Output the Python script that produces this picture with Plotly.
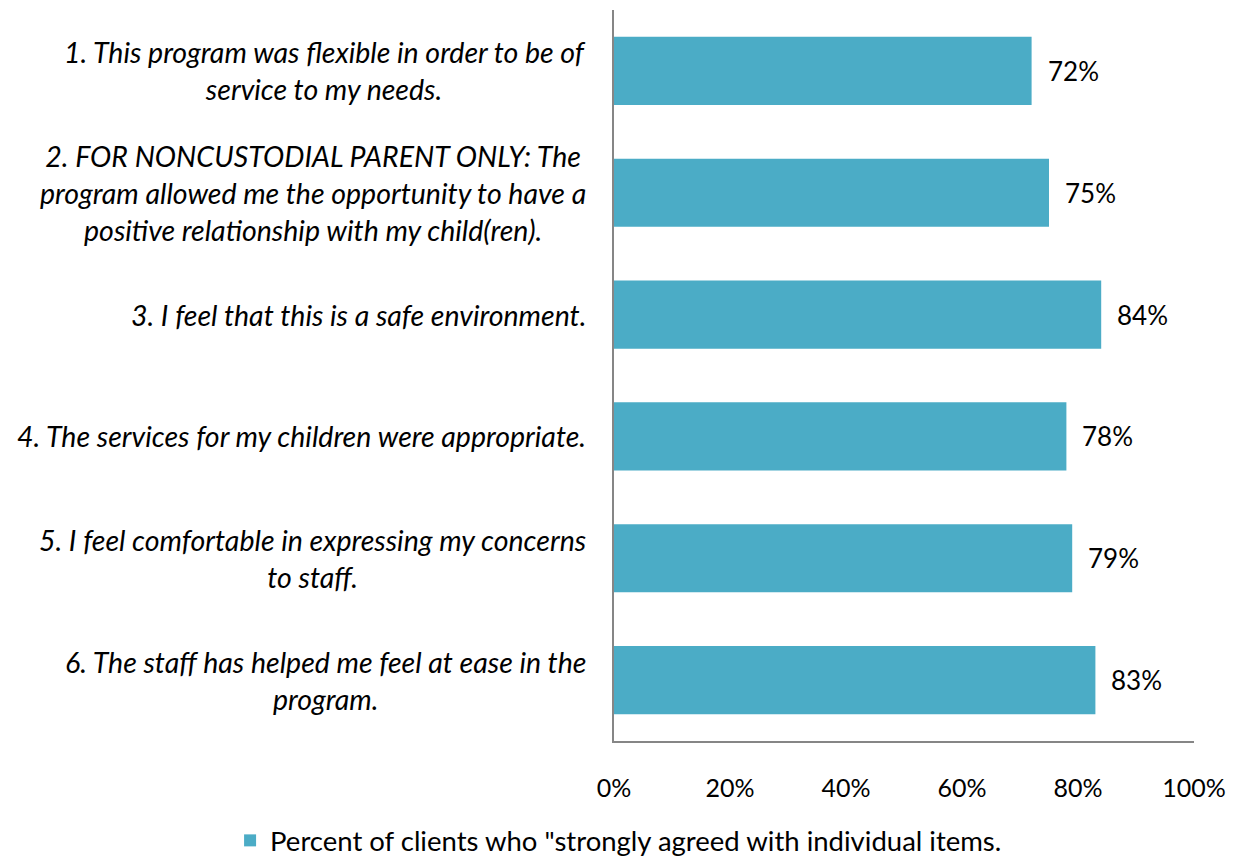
import plotly.graph_objects as go

# Survey items (top to bottom) and share of clients who strongly agreed
items = [
    "1. This program was flexible in order to be of<br>service to my needs.",
    "2. FOR NONCUSTODIAL PARENT ONLY: The<br>program allowed me the opportunity to have a<br>positive relationship with my child(ren).",
    "3. I feel that this is a safe environment.",
    "4. The services for my children were appropriate.",
    "5. I feel comfortable in expressing my concerns<br>to staff.",
    "6. The staff has helped me feel at ease in the<br>program.",
]
values = [0.72, 0.75, 0.84, 0.78, 0.79, 0.83]
x_ticks = [0, 0.2, 0.4, 0.6, 0.8, 1.0]
x_tick_labels = ["0%", "20%", "40%", "60%", "80%", "100%"]
series_name = 'Percent of clients who "strongly agreed with individual items.'

FONT = "Lato"
BAR_COLOR = "#4BACC6"
AXIS_COLOR = "#868686"

cat_ids = [str(i) for i in range(len(items))]

fig = go.Figure()
fig.add_trace(go.Bar(
    y=cat_ids,
    x=values,
    orientation="h",
    marker=dict(color=BAR_COLOR, line=dict(width=0)),
    name=series_name,
    showlegend=True,
))

annotations = []
# Category labels, centred line by line and right-aligned against the axis
for cid, label in zip(cat_ids, items):
    annotations.append(dict(
        x=0, xref="x", y=cid, yref="y",
        xanchor="right", yanchor="middle", xshift=-26,
        text="<i>" + label + "</i>", align="center",
        showarrow=False,
        font=dict(family=FONT, size=28.5, color="#000000"),
    ))
# Value labels just beyond each bar
for cid, v in zip(cat_ids, values):
    annotations.append(dict(
        x=v, xref="x", y=cid, yref="y",
        xanchor="left", yanchor="middle", xshift=14,
        text=f"{round(v * 100)}%",
        showarrow=False,
        font=dict(family=FONT, size=26, color="#000000"),
    ))

fig.update_layout(
    width=1237, height=865,
    margin=dict(l=614, r=43, t=10, b=124, autoexpand=False),
    paper_bgcolor="white", plot_bgcolor="white",
    bargap=0.44,
    font=dict(family=FONT, size=26, color="#000000"),
    annotations=annotations,
    legend=dict(
        orientation="h",
        xref="container", yref="container",
        x=0.186, y=0.0, xanchor="left", yanchor="bottom",
        font=dict(family=FONT, size=27.5, color="#000000"),
        itemwidth=30,
    ),
    xaxis=dict(
        range=[0, 1], tickvals=x_ticks, ticktext=x_tick_labels,
        showgrid=False, zeroline=False,
        showline=True, linecolor=AXIS_COLOR, linewidth=2,
        ticks="", ticklabelstandoff=24, automargin=False,
        tickfont=dict(family=FONT, size=25, color="#000000"),
    ),
    yaxis=dict(
        categoryorder="array", categoryarray=cat_ids,
        autorange="reversed", automargin=False,
        showticklabels=False, showgrid=False, zeroline=False,
        showline=True, linecolor=AXIS_COLOR, linewidth=2,
        ticks="",
    ),
)

fig.write_html("out.html")
